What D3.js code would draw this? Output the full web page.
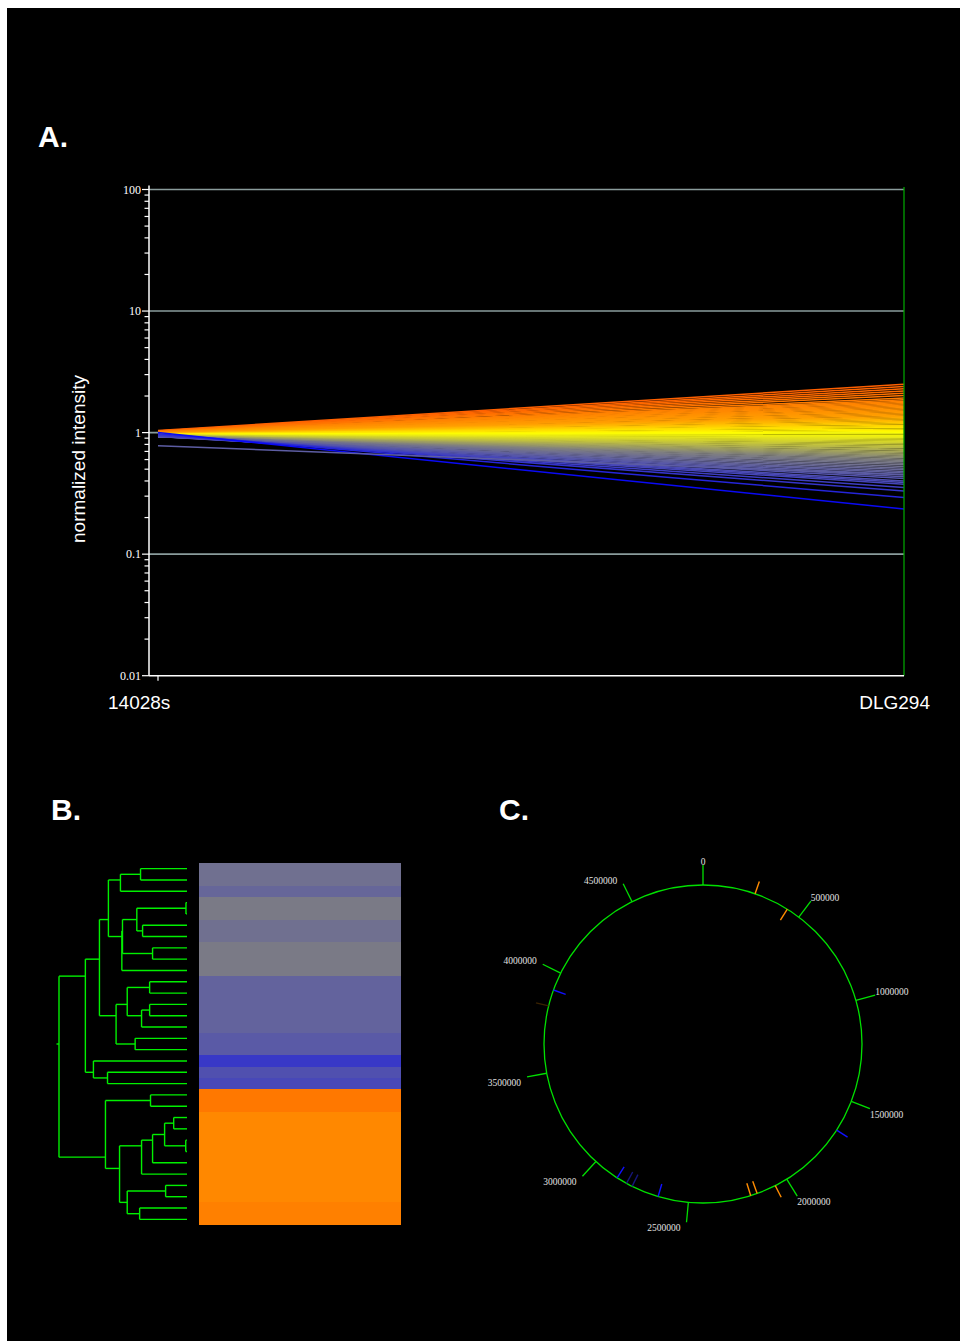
<!DOCTYPE html>
<html>
<head>
<meta charset="utf-8">
<script src="https://cdn.jsdelivr.net/npm/d3@7"></script>
<style>
  html, body { margin: 0; padding: 0; background: #fff; }
  svg { display: block; }
</style>
</head>
<body>
<svg id="fig" width="960" height="1341"></svg>
<script>
// ---- Panel A: normalized intensity, one line per gene ----
const sampleNames = ['14028s', 'DLG294'];
const startIntensity = [
  1.04, 1.03, 1.03, 1.02, 1.02, 1.02, 1.01, 1.01,
  1.01, 1.01, 1.0, 1.0, 1.0, 1.0, 0.99, 0.99, 0.99, 0.99,
  0.99, 0.98, 0.98, 0.98, 0.98, 0.98, 0.97, 0.97, 0.97, 0.97,
  0.97, 0.97, 0.96, 0.96, 0.96, 0.96, 0.96, 0.96, 0.95, 0.95,
  0.95, 0.95, 0.95, 0.95, 0.95, 0.94, 0.94, 0.94, 0.94, 0.94,
  0.94, 0.94, 0.94, 0.93, 0.93, 0.93, 0.93, 0.93, 0.93, 0.93, 0.93,
  0.94, 0.94, 0.93, 0.93, 0.93, 0.93, 0.94, 0.93, 0.93, 0.94, 0.94, 0.95, 0.96, 0.98, 1.0,
  0.78
];
const endIntensity = [
  2.50, 2.39, 2.29, 2.20, 2.11, 2.02, 1.93, 1.86,
  1.815, 1.77, 1.73, 1.69, 1.65, 1.61, 1.57, 1.535, 1.50, 1.46,
  1.43, 1.395, 1.36, 1.33, 1.30, 1.27, 1.24, 1.21, 1.18, 1.15,
  1.125, 1.10, 1.07, 1.045, 1.02, 0.995, 0.975, 0.95, 0.93, 0.905,
  0.885, 0.865, 0.845, 0.825, 0.805, 0.785, 0.765, 0.75, 0.73, 0.715,
  0.695, 0.68, 0.665, 0.65, 0.635, 0.62, 0.605, 0.59, 0.575, 0.56, 0.545,
  0.526, 0.51, 0.495, 0.478, 0.465, 0.45, 0.434, 0.42, 0.40, 0.388, 0.376, 0.353, 0.331, 0.292, 0.235,
  0.45
];
const yTickValues = [0.01, 0.1, 1, 10, 100];
const gridValues = [100, 10, 1, 0.1];

// ---- Panel B: cluster tree + heatmap (log2 ratio per leaf, top to bottom) ----
const leafRatios = [
  -0.93, -0.93, -1.04, -0.82, -0.82, -0.93, -0.93, -0.82, -0.82, -0.82,
  -1.08, -1.08, -1.08, -1.08, -1.08, -1.185, -1.185, -1.56, -1.29, -1.39,
  0.99, 0.99, 0.78, 0.78, 0.78, 0.78, 0.78, 0.78, 0.78, 0.78,
  0.885, 0.885
];
// [height, child, child]; numbers are leaf rows
const dendroTree = [100,
  [79.4,
    [68.4,
      [61.4,
        [52, [36.3, 0, 1], 2],
        [50.9, [50.4, [39.2, [0.8, 3, 4], [34.7, 5, 6]], [26.9, 7, 8]], 9]
      ],
      [55.4,
        [46.7, [29.2, 10, 11], [35.5, [29.2, 12, 13], 14]],
        [40.5, 15, 16]
      ]
    ],
    [73.1, 17, [62.1, 18, 19]]
  ],
  [63.7,
    [28.5, 20, 21],
    [52.7,
      [35.5, [26.9, [17.5, [10.4, 22, 23], [1, 24, 25]], 26], 27],
      [46.7, [16.7, 28, 29], [37, 30, 31]]
    ]
  ]
];

// ---- Panel C: genome map ----
const genomeLength = 4857432;
const genomeTicks = [0, 500000, 1000000, 1500000, 2000000, 2500000, 3000000, 3500000, 4000000, 4500000];
const featurePos = [258000, 432000, 1657000, 2064000, 2160000, 2193000, 2650000, 2786000, 2817000, 2870000, 3830000, 3911000];
const featureStrand = [1, -1, 1, 1, -1, -1, -1, -1, -1, -1, 1, -1];
const featureClass = ['up', 'up', 'down', 'up', 'up', 'up', 'down', 'weakDown', 'weakDown', 'down', 'weak', 'down'];

const svg = d3.select('#fig');
svg.append('rect').attr('x', 7).attr('y', 8).attr('width', 953).attr('height', 1333).attr('fill', '#000');

const ratioColor = d3.scaleLinear()
  .domain([-2.2, -0.75, 0, 0.45, 1.32])
  .range(['#0000ff', '#808080', '#ffff00', '#ffa000', '#ff6000'])
  .clamp(true);

function panelLabel(t, px, py) {
  svg.append('text').attr('x', px).attr('y', py).text(t)
    .attr('fill', '#fff').attr('font-family', 'Liberation Sans, Arial, sans-serif')
    .attr('font-weight', 'bold').attr('font-size', 30);
}
panelLabel('A.', 38, 147);
panelLabel('B.', 51, 820);
panelLabel('C.', 499, 820);

// ===== Panel A =====
const plotLeft = 149, plotRight = 904, plotTop = 189.5, plotBottom = 675.7;
const x = d3.scalePoint().domain(sampleNames).range([158, 904]);
const y = d3.scaleLog().domain([0.01, 100]).range([plotBottom, plotTop]);

const gA = svg.append('g');
gA.selectAll('line.grid').data(gridValues).join('line')
  .attr('class', 'grid')
  .attr('x1', plotLeft).attr('x2', plotRight)
  .attr('y1', d => y(d)).attr('y2', d => y(d))
  .attr('stroke', '#8a9c9c').attr('stroke-width', 1.6);

const lines = startIntensity.map((s, i) => [s, endIntensity[i]]);
const lineGen = d3.line().x((d, i) => x(sampleNames[i])).y(d => y(d));
gA.append('g').selectAll('path').data(lines).join('path')
  .attr('d', lineGen)
  .attr('fill', 'none')
  .attr('stroke', d => ratioColor(Math.log2(d[1])))
  .attr('stroke-width', 1.5);

// right sample marker
gA.append('line')
  .attr('x1', x('DLG294')).attr('x2', x('DLG294'))
  .attr('y1', plotTop - 2.5).attr('y2', plotBottom)
  .attr('stroke', '#00a000').attr('stroke-width', 1.3);

// axes
gA.append('line').attr('x1', plotLeft).attr('x2', plotLeft).attr('y1', plotTop - 4).attr('y2', plotBottom)
  .attr('stroke', '#fff').attr('stroke-width', 1.5);
gA.append('line').attr('x1', plotLeft).attr('x2', plotRight).attr('y1', plotBottom).attr('y2', plotBottom)
  .attr('stroke', '#fff').attr('stroke-width', 1.5);

const minor = y.ticks().filter(v => !yTickValues.includes(v));
gA.selectAll('line.minor').data(minor).join('line')
  .attr('class', 'minor')
  .attr('x1', plotLeft - 4.5).attr('x2', plotLeft)
  .attr('y1', d => y(d)).attr('y2', d => y(d))
  .attr('stroke', '#fff').attr('stroke-width', 1.2);
gA.selectAll('line.major').data(yTickValues).join('line')
  .attr('class', 'major')
  .attr('x1', plotLeft - 7).attr('x2', plotLeft)
  .attr('y1', d => y(d)).attr('y2', d => y(d))
  .attr('stroke', '#fff').attr('stroke-width', 1.2);
gA.selectAll('text.ytick').data(yTickValues).join('text')
  .attr('class', 'ytick')
  .attr('x', plotLeft - 8).attr('y', d => y(d)).attr('dy', '0.35em')
  .attr('text-anchor', 'end')
  .attr('fill', '#fff').attr('font-family', 'Liberation Serif, Times New Roman, serif').attr('font-size', 12)
  .text(d => String(d));

gA.selectAll('line.xtick').data(sampleNames.slice(0, 1)).join('line')
  .attr('class', 'xtick')
  .attr('x1', d => x(d)).attr('x2', d => x(d))
  .attr('y1', plotBottom).attr('y2', plotBottom + 5)
  .attr('stroke', '#fff').attr('stroke-width', 1.2);

gA.selectAll('text.xlab').data(sampleNames).join('text')
  .attr('class', 'xlab')
  .attr('x', (d, i) => i === 0 ? x(d) - 50 : x(d) + 26)
  .attr('y', 709)
  .attr('text-anchor', (d, i) => i === 0 ? 'start' : 'end')
  .attr('fill', '#fff').attr('font-family', 'Liberation Sans, Arial, sans-serif').attr('font-size', 19)
  .text(d => d);

gA.append('text')
  .attr('transform', 'translate(85,459) rotate(-90)')
  .attr('text-anchor', 'middle')
  .attr('fill', '#fff').attr('font-family', 'Liberation Sans, Arial, sans-serif').attr('font-size', 19)
  .text('normalized intensity');

// ===== Panel B =====
const gB = svg.append('g');
const nRows = leafRatios.length;
const rowBand = d3.scaleBand().domain(d3.range(nRows)).range([863, 1225]);
const rowY = d3.scaleLinear().domain([0, nRows - 1])
  .range([rowBand(0) + rowBand.bandwidth() / 2, rowBand(nRows - 1) + rowBand.bandwidth() / 2]);
const hx = d3.scaleLinear().domain([0, 100]).range([187, 59]);

gB.append('g').attr('shape-rendering', 'crispEdges')
  .selectAll('rect').data(leafRatios).join('rect')
  .attr('x', 199).attr('width', 202)
  .attr('y', (d, i) => rowBand(i)).attr('height', (d, i) => i < nRows - 1 ? rowBand.bandwidth() + 1 : rowBand.bandwidth())
  .attr('fill', d => ratioColor(d));

const root = d3.hierarchy(dendroTree, d => Array.isArray(d) ? d.slice(1) : null);
root.eachAfter(n => {
  if (!n.children) { n.row = n.data; n.h = 0; }
  else {
    n.row = d3.mean(n.leaves(), l => l.data);
    n.h = n.data[0];
  }
});
const segs = [];
root.each(n => {
  if (!n.children) return;
  const rows = n.children.map(c => c.row);
  segs.push([hx(n.h), rowY(d3.min(rows)), hx(n.h), rowY(d3.max(rows))]);
  n.children.forEach(c => segs.push([hx(n.h), rowY(c.row), hx(c.h), rowY(c.row)]));
});
segs.push([hx(100) - 2.5, rowY(root.row), hx(100), rowY(root.row)]);
gB.selectAll('line').data(segs).join('line')
  .attr('x1', d => d[0]).attr('y1', d => d[1]).attr('x2', d => d[2]).attr('y2', d => d[3])
  .attr('stroke', '#00f000').attr('stroke-width', 1.4);

// ===== Panel C =====
const gC = svg.append('g');
const cx = 703, cy = 1044, R = 159;
const ang = d3.scaleLinear().domain([0, genomeLength]).range([0, 2 * Math.PI]);
const pt = (v, r) => [cx + r * Math.sin(ang(v)), cy - r * Math.cos(ang(v))];

gC.append('circle').attr('cx', cx).attr('cy', cy).attr('r', R)
  .attr('fill', 'none').attr('stroke', '#00e000').attr('stroke-width', 1.3);

gC.selectAll('line.gtick').data(genomeTicks).join('line')
  .attr('class', 'gtick')
  .attr('x1', d => pt(d, R)[0]).attr('y1', d => pt(d, R)[1])
  .attr('x2', d => pt(d, R + 20)[0]).attr('y2', d => pt(d, R + 20)[1])
  .attr('stroke', '#00e000').attr('stroke-width', 1.3);

gC.selectAll('text.glab').data(genomeTicks).join('text')
  .attr('class', 'glab')
  .attr('x', d => {
    const s = Math.sin(ang(d));
    return pt(d, R + 20)[0] + (s < -0.01 ? -6 : 0);
  })
  .attr('y', d => pt(d, R + 20)[1] + (Math.cos(ang(d)) >= 0 ? 0 : 9))
  .attr('text-anchor', d => {
    const s = Math.sin(ang(d));
    return s > 0.01 ? 'start' : (s < -0.01 ? 'end' : 'middle');
  })
  .attr('fill', '#e0e0e0').attr('font-family', 'Liberation Serif, Times New Roman, serif').attr('font-size', 9.5)
  .text(d => String(d));

const featColor = d3.scaleOrdinal()
  .domain(['up', 'down', 'weakDown', 'weak'])
  .range(['#ff8c00', '#1010ff', '#16167a', '#3a2200']);
gC.selectAll('line.feat').data(featurePos).join('line')
  .attr('class', 'feat')
  .attr('x1', d => pt(d, R)[0]).attr('y1', d => pt(d, R)[1])
  .attr('x2', (d, i) => pt(d, R + 13 * featureStrand[i])[0])
  .attr('y2', (d, i) => pt(d, R + 13 * featureStrand[i])[1])
  .attr('stroke', (d, i) => featColor(featureClass[i])).attr('stroke-width', 1.4);
</script>
</body>
</html>
